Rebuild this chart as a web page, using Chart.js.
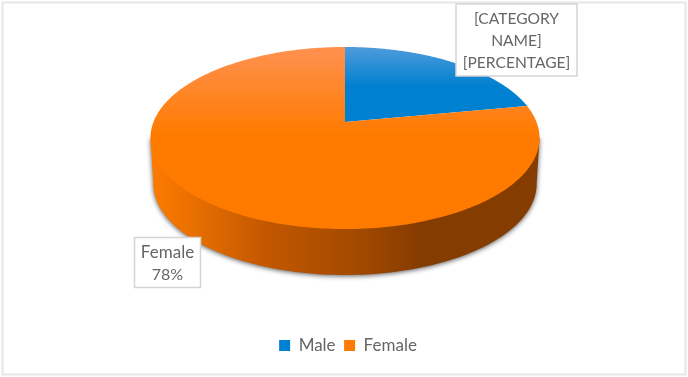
<!DOCTYPE html>
<html>
<head>
<meta charset="utf-8">
<script src="https://cdn.jsdelivr.net/npm/chart.js@4"></script>
<style>
  html, body { margin: 0; padding: 0; background: #fff; }
  #wrap { width: 688px; height: 377px; }
</style>
</head>
<body>
<div id="wrap"><canvas id="chart" width="688" height="377"></canvas></div>
<script>
const categories = ['Male', 'Female'];
const shares = [22, 78];
const baseColors = ['#0080d0', '#ff7b00'];
const topColors = ['#4f9bdc', '#ff9150'];
const maleLabelLines = ['[CATEGORY', 'NAME]', '[PERCENTAGE]'];

const textColor = '#666666';

// perspective of the tilted disc: centre point, half width, half height, tilt
const disc = { cx: 345, cy: 122, a: 191.5, b: 88.2, k: -0.1758, depth: 46 };

function project(angle, dy = 0, scale = 1) {
  const u = Math.cos(angle), v = Math.sin(angle);
  const w = 1 + disc.k * v;
  return [disc.cx + scale * disc.a * u / w, disc.cy + dy + disc.b * v / w];
}

function drawWall(ctx) {
  const right = Math.asin(-disc.k), left = Math.PI - right;
  const grad = ctx.createLinearGradient(150, 0, 540, 0);
  grad.addColorStop(0, '#ff7b00');
  grad.addColorStop(0.13, '#e56d00');
  grad.addColorStop(0.3, '#c25700');
  grad.addColorStop(0.52, '#a54a00');
  grad.addColorStop(0.7, '#843c00');
  grad.addColorStop(1, '#843c00');
  ctx.save();
  ctx.beginPath();
  for (let i = 0; i <= 120; i++) {
    const p = project(right + (left - right) * i / 120, disc.depth, 0.985);
    i ? ctx.lineTo(p[0], p[1]) : ctx.moveTo(p[0], p[1]);
  }
  ctx.lineTo(...project(left));
  ctx.lineTo(...project(right));
  ctx.closePath();
  ctx.shadowColor = 'rgba(60,60,60,0.85)';
  ctx.shadowBlur = 5;
  ctx.shadowOffsetX = 0;
  ctx.shadowOffsetY = 1;
  ctx.fillStyle = grad;
  ctx.fill();
  ctx.restore();
}

function drawSlice(ctx, arc, i) {
  const grad = ctx.createLinearGradient(0, 47, 0, i === 0 ? 86 : 135);
  grad.addColorStop(0, topColors[i]);
  grad.addColorStop(1, baseColors[i]);
  ctx.beginPath();
  ctx.moveTo(disc.cx, disc.cy);
  const steps = 240;
  for (let s = 0; s <= steps; s++) {
    const p = project(arc.startAngle + (arc.endAngle - arc.startAngle) * s / steps);
    ctx.lineTo(p[0], p[1]);
  }
  ctx.closePath();
  ctx.fillStyle = grad;
  ctx.fill();
}

function drawLabelBox(ctx, box, lines, sizes) {
  ctx.save();
  ctx.fillStyle = '#fff';
  ctx.fillRect(box.x, box.y, box.w, box.h);
  ctx.strokeStyle = '#d4d4d4';
  ctx.lineWidth = 1.5;
  ctx.strokeRect(box.x, box.y, box.w, box.h);
  ctx.fillStyle = textColor;
  ctx.textAlign = 'center';
  ctx.textBaseline = 'middle';
  lines.forEach((t, n) => {
    ctx.font = sizes[n] + 'px Lato';
    ctx.fillText(t, box.x + box.w / 2, box.y + box.firstLine + n * 22);
  });
  ctx.restore();
}

const tiltedPie = {
  id: 'tiltedPie',
  beforeDraw(chart) {
    const ctx = chart.ctx;
    ctx.save();
    ctx.fillStyle = '#fff';
    ctx.fillRect(0, 0, chart.width, chart.height);
    ctx.strokeStyle = '#e6e6e6';
    ctx.lineWidth = 2;
    ctx.strokeRect(2.5, 2.5, 683, 372);
    ctx.restore();
  },
  beforeDatasetsDraw(chart) {
    const ctx = chart.ctx;
    const arcs = chart.getDatasetMeta(0).data;
    drawWall(ctx);
    arcs.forEach((arc, i) => drawSlice(ctx, arc, i));
    const total = shares.reduce((a, b) => a + b, 0);
    drawLabelBox(ctx, { x: 456, y: 4, w: 121, h: 72, firstLine: 15 }, maleLabelLines, [15.6, 15.6, 15.6]);
    drawLabelBox(ctx, { x: 134.5, y: 237.5, w: 66, h: 50, firstLine: 15 },
      [categories[1], Math.round(shares[1] / total * 100) + '%'], [17, 16]);
    return false;
  }
};

new Chart(document.getElementById('chart'), {
  type: 'pie',
  data: {
    labels: categories,
    datasets: [{ data: shares, backgroundColor: baseColors, borderWidth: 0 }]
  },
  options: {
    responsive: false,
    animation: false,
    layout: { padding: { left: 8, bottom: 13 } },
    plugins: {
      title: { display: false },
      tooltip: { enabled: false },
      legend: {
        position: 'bottom',
        labels: {
          boxWidth: 11,
          boxHeight: 11,
          padding: 8.5,
          color: textColor,
          font: { family: 'Lato', size: 17 }
        }
      }
    }
  },
  plugins: [tiltedPie]
});
</script>
</body>
</html>
